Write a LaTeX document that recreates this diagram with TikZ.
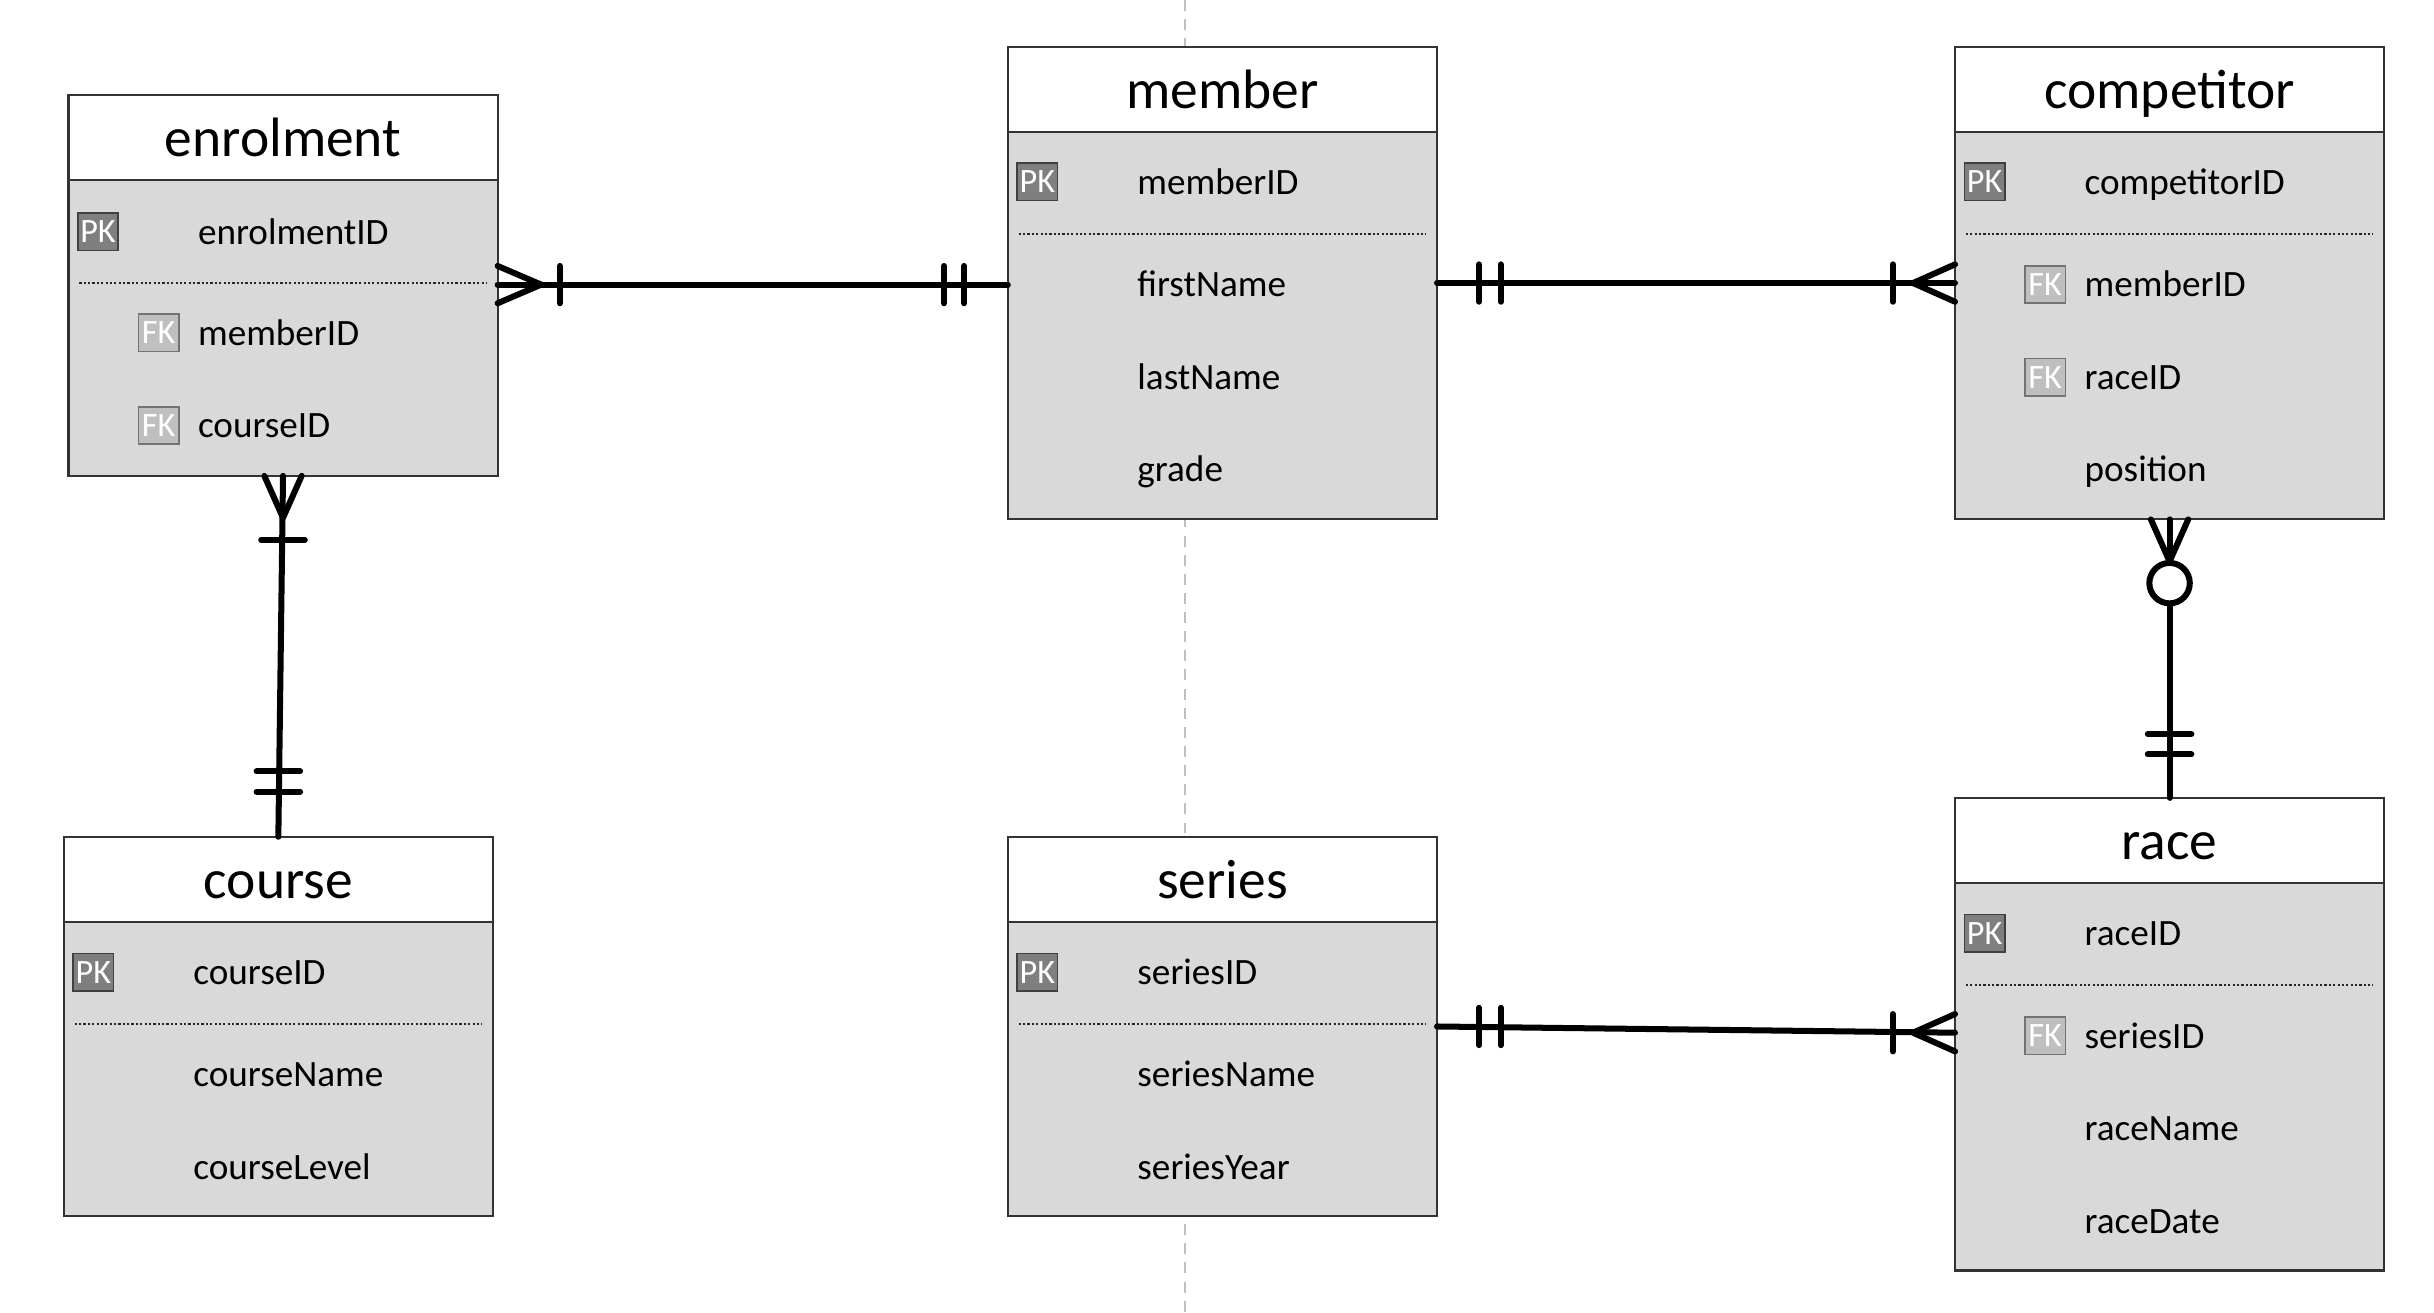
\documentclass[tikz,border=0pt]{standalone}
\usepackage{fontspec}
\setmainfont{Carlito}
\usetikzlibrary{calc}

\definecolor{bodygrey}{HTML}{D9D9D9}
\definecolor{pkgrey}{HTML}{7F7F7F}
\definecolor{fkgrey}{HTML}{BFBFBF}

\tikzset{
  ehead/.style={draw=black!80, line width=0.8pt, fill=white, anchor=north west, inner sep=0pt, outer sep=0pt,
    minimum width=5.52cm, minimum height=1.1cm, text height=15pt, text depth=1pt, font=\fontsize{20.3}{24}\selectfont},
  ebody/.style={draw=black!80, line width=0.8pt, fill=bodygrey, anchor=north west, inner sep=0pt, outer sep=0pt,
    minimum width=5.52cm},
  fld/.style={anchor=west, inner sep=0pt, text height=9pt, text depth=0pt, font=\fontsize{13.6}{16}\selectfont},
  pk/.style={draw=black!75, line width=0.6pt, fill=pkgrey, text=white, inner sep=0pt,
    minimum width=0.52cm, minimum height=0.48cm, font=\fontsize{12.5}{14}\selectfont},
  fk/.style={pk, draw=black!55, fill=fkgrey},
  sep/.style={black!85, line width=0.6pt, dash pattern=on 0.8pt off 0.8pt},
  rel/.style={line width=2.2pt, line cap=round, line join=round},
  pageline/.style={black!25, line width=0.5pt, dash pattern=on 4pt off 3pt}
}

\begin{document}
\begin{tikzpicture}[x=0.02cm, y=-0.02cm]
  \useasboundingbox (0,0) rectangle (1565,844.2);
  \draw[pageline] (762,0) -- (762,844.2);

  % enrolment
  \node[ehead] (enrolment) at (44,61) {enrolment};
  \node[ebody, minimum height=3.8cm] (enrolmentB) at (enrolment.south west) {};
  \node[pk] (enrolmentPK) at ($(enrolmentB.north west)+(19,33)$) {PK};
  \node[fld] (enrolmentR1) at ($(enrolmentB.north west)+(83,33)$) {enrolmentID};
  \draw[sep] ($(enrolmentB.north west)+(7,66)$) -- ($(enrolmentB.north east)+(-7,66)$);
  \node[fk] (enrolmentFK1) at ($(enrolmentB.north west)+(58,98)$) {FK};
  \node[fld] (enrolmentR2) at ($(enrolmentB.north west)+(83,98)$) {memberID};
  \node[fk] (enrolmentFK2) at ($(enrolmentB.north west)+(58,157.5)$) {FK};
  \node[fld] (enrolmentR3) at ($(enrolmentB.north west)+(83,157.5)$) {courseID};

  % member
  \node[ehead] (member) at (648,30) {member};
  \node[ebody, minimum height=4.98cm] (memberB) at (member.south west) {};
  \node[pk] (memberPK) at ($(memberB.north west)+(19,32)$) {PK};
  \node[fld] (memberR1) at ($(memberB.north west)+(83,32)$) {memberID};
  \draw[sep] ($(memberB.north west)+(7,65.5)$) -- ($(memberB.north east)+(-7,65.5)$);
  \node[fld] (memberR2) at ($(memberB.north west)+(83,98)$) {firstName};
  \node[fld] (memberR3) at ($(memberB.north west)+(83,157.5)$) {lastName};
  \node[fld] (memberR4) at ($(memberB.north west)+(83,217)$) {grade};

  % competitor
  \node[ehead] (competitor) at (1257,30) {competitor};
  \node[ebody, minimum height=4.98cm] (competitorB) at (competitor.south west) {};
  \node[pk] (competitorPK) at ($(competitorB.north west)+(19,32)$) {PK};
  \node[fld] (competitorR1) at ($(competitorB.north west)+(83,32)$) {competitorID};
  \draw[sep] ($(competitorB.north west)+(7,65.5)$) -- ($(competitorB.north east)+(-7,65.5)$);
  \node[fk] (competitorFK1) at ($(competitorB.north west)+(58,98)$) {FK};
  \node[fld] (competitorR2) at ($(competitorB.north west)+(83,98)$) {memberID};
  \node[fk] (competitorFK2) at ($(competitorB.north west)+(58,157.5)$) {FK};
  \node[fld] (competitorR3) at ($(competitorB.north west)+(83,157.5)$) {raceID};
  \node[fld] (competitorR4) at ($(competitorB.north west)+(83,217)$) {position};

  % course
  \node[ehead] (course) at (41,538) {course};
  \node[ebody, minimum height=3.78cm] (courseB) at (course.south west) {};
  \node[pk] (coursePK) at ($(courseB.north west)+(19,32)$) {PK};
  \node[fld] (courseR1) at ($(courseB.north west)+(83,32)$) {courseID};
  \draw[sep] ($(courseB.north west)+(7,65.5)$) -- ($(courseB.north east)+(-7,65.5)$);
  \node[fld] (courseR2) at ($(courseB.north west)+(83,98)$) {courseName};
  \node[fld] (courseR3) at ($(courseB.north west)+(83,157.5)$) {courseLevel};

  % series
  \node[ehead] (series) at (648,538) {series};
  \node[ebody, minimum height=3.78cm] (seriesB) at (series.south west) {};
  \node[pk] (seriesPK) at ($(seriesB.north west)+(19,32)$) {PK};
  \node[fld] (seriesR1) at ($(seriesB.north west)+(83,32)$) {seriesID};
  \draw[sep] ($(seriesB.north west)+(7,65.5)$) -- ($(seriesB.north east)+(-7,65.5)$);
  \node[fld] (seriesR2) at ($(seriesB.north west)+(83,98)$) {seriesName};
  \node[fld] (seriesR3) at ($(seriesB.north west)+(83,157.5)$) {seriesYear};

  % race
  \node[ehead] (race) at (1257,513) {race};
  \node[ebody, minimum height=4.98cm] (raceB) at (race.south west) {};
  \node[pk] (racePK) at ($(raceB.north west)+(19,32)$) {PK};
  \node[fld] (raceR1) at ($(raceB.north west)+(83,32)$) {raceID};
  \draw[sep] ($(raceB.north west)+(7,65.5)$) -- ($(raceB.north east)+(-7,65.5)$);
  \node[fk] (raceFK1) at ($(raceB.north west)+(58,98)$) {FK};
  \node[fld] (raceR2) at ($(raceB.north west)+(83,98)$) {seriesID};
  \node[fld] (raceR3) at ($(raceB.north west)+(83,157.5)$) {raceName};
  \node[fld] (raceR4) at ($(raceB.north west)+(83,217)$) {raceDate};

  % enrolment -- member
  \coordinate (em1) at ($(enrolmentB.north east)+(0,67)$);
  \coordinate (em2) at ($(memberB.north west)+(0,98)$);
  \draw[rel] (em1) -- (em2);
  \draw[rel] ($(em1)+(0,-12)$) -- ($(em1)+(28,0)$) -- ($(em1)+(0,12)$);
  \draw[rel] ($(em1)+(40,-12)$) -- ($(em1)+(40,12)$);
  \draw[rel] ($(em2)+(-41,-12)$) -- ($(em2)+(-41,12)$);
  \draw[rel] ($(em2)+(-28,-12)$) -- ($(em2)+(-28,12)$);

  % member -- competitor
  \coordinate (mc1) at ($(memberB.north east)+(0,97)$);
  \coordinate (mc2) at ($(competitorB.north west)+(0,97)$);
  \draw[rel] (mc1) -- (mc2);
  \draw[rel] ($(mc1)+(27,-12)$) -- ($(mc1)+(27,12)$);
  \draw[rel] ($(mc1)+(41,-12)$) -- ($(mc1)+(41,12)$);
  \draw[rel] ($(mc2)+(-40,-12)$) -- ($(mc2)+(-40,12)$);
  \draw[rel] ($(mc2)+(0,-12)$) -- ($(mc2)+(-27,0)$) -- ($(mc2)+(0,12)$);

  % enrolment -- course
  \coordinate (ec1) at (enrolmentB.south);
  \coordinate (ec2) at (course.north);
  \draw[rel] (ec1) -- (ec2);
  \draw[rel] ($(ec1)+(-12,0)$) -- ($(ec1)+(0,27)$) -- ($(ec1)+(12,0)$);
  \draw[rel] ($(ec1)+(-14,41)$) -- ($(ec1)+(14,41)$);
  \draw[rel] ($(ec2)+(-14,-42)$) -- ($(ec2)+(14,-42)$);
  \draw[rel] ($(ec2)+(-14,-29)$) -- ($(ec2)+(14,-29)$);

  % competitor -- race
  \coordinate (cr1) at (competitorB.south);
  \coordinate (cr2) at (race.north);
  \draw[rel] (cr1) -- (cr2);
  \draw[rel] ($(cr1)+(-12,0)$) -- ($(cr1)+(0,27)$) -- ($(cr1)+(12,0)$);
  \draw[rel, fill=white] ($(cr1)+(0,41)$) circle [radius=13];
  \draw[rel] ($(cr2)+(-14,-41)$) -- ($(cr2)+(14,-41)$);
  \draw[rel] ($(cr2)+(-14,-28)$) -- ($(cr2)+(14,-28)$);

  % series -- race
  \coordinate (sr1) at ($(seriesB.north east)+(0,67)$);
  \coordinate (sr2) at ($(raceB.north west)+(0,96)$);
  \draw[rel] (sr1) -- (sr2);
  \draw[rel] ($(sr1)+(27,-12)$) -- ($(sr1)+(27,12)$);
  \draw[rel] ($(sr1)+(41,-12)$) -- ($(sr1)+(41,12)$);
  \draw[rel] ($(sr2)+(-40,-12)$) -- ($(sr2)+(-40,12)$);
  \draw[rel] ($(sr2)+(0,-12)$) -- ($(sr2)+(-27,0)$) -- ($(sr2)+(0,12)$);
\end{tikzpicture}
\end{document}
